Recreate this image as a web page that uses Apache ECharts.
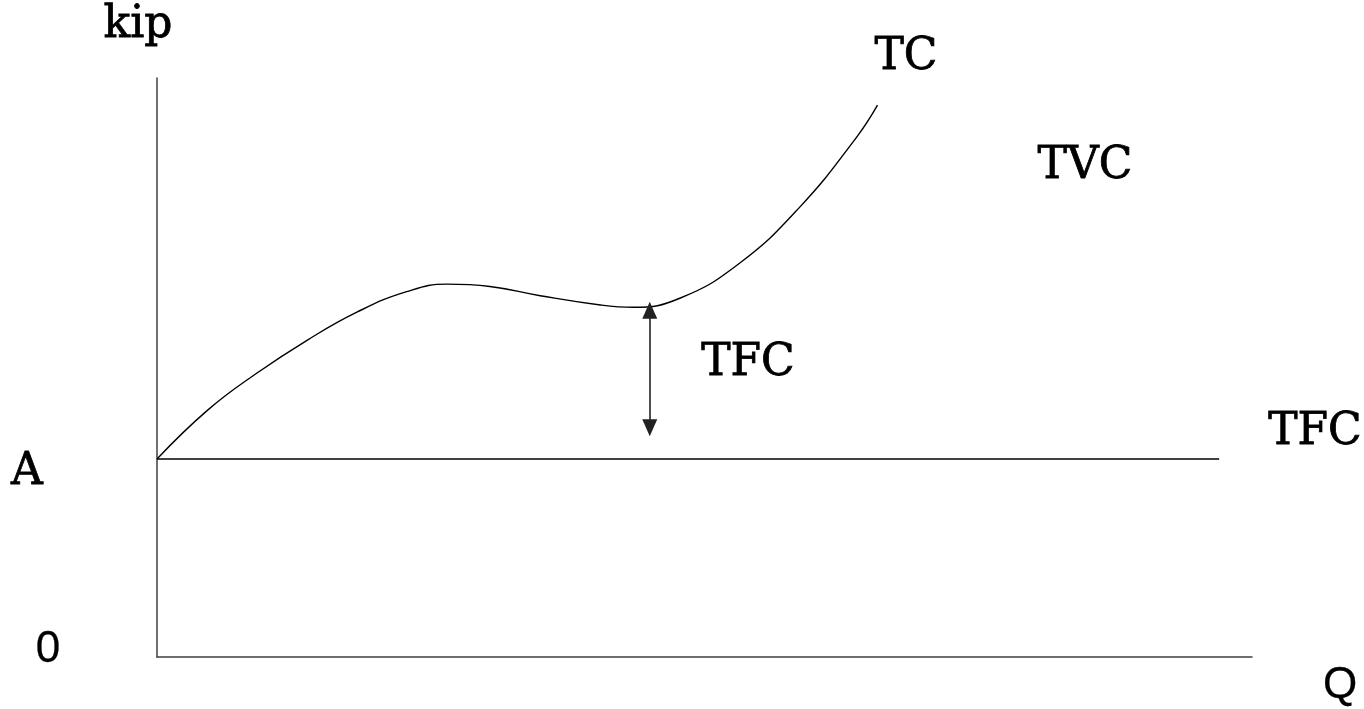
<!DOCTYPE html>
<html>
<head>
<meta charset="utf-8">
<script src="https://cdn.jsdelivr.net/npm/echarts@6/dist/echarts.min.js"></script>
<style>
html,body{margin:0;padding:0;background:#fff;}
#chart{width:1364px;height:709px;}
</style>
</head>
<body>
<div id="chart"></div>
<script>
// Total cost (TC) curve: quantity Q and cost values
const tcQ    = [0, 4.6, 9.1, 13.7, 18.3, 22.8, 26.5, 30.4, 35.0, 40.5, 43.5, 47.8, 53.2, 58.7, 63.9, 65.8];
const tcCost = [34.2, 42.6, 49.0, 54.7, 59.6, 63.1, 64.4, 64.0, 62.4, 60.8, 60.4, 62.0, 68.0, 77.7, 89.8, 95.3];
// Total fixed cost (TFC) level A
const tfcQ    = [0, 97];
const tfcCost = [34.2, 34.2];
// Arrow marking the TFC gap
const arrowQ = 45.0;
const arrowFrom = 59.9;
const arrowTo = 39.6;
// Text labels
const labelKip = 'kip';
const labelTC = 'TC';
const labelTVC = 'TVC';
const labelTFC = 'TFC';
const labelA = 'A';
const labelZero = '0';
const labelQ = 'Q';

const chart = echarts.init(document.getElementById('chart'));
const serif = '44px "DejaVu Serif"';
const sans = '44px "Liberation Sans"';
function txt(t, x, y, font, sw){
  return {type:'text', x:x, y:y, style:{text:t, font:font, fill:'#000', stroke:'#000', lineWidth:sw, align:'center', verticalAlign:'middle'}};
}
chart.setOption({
  animation:false,
  backgroundColor:'#fff',
  grid:{left:157, top:78, width:1095, height:579},
  xAxis:{type:'value', min:0, max:100, axisLine:{show:true, lineStyle:{color:'#404040', width:1.5}}, axisTick:{show:false}, axisLabel:{show:false}, splitLine:{show:false}},
  yAxis:{type:'value', min:0, max:100, axisLine:{show:true, lineStyle:{color:'#404040', width:1.5}}, axisTick:{show:false}, axisLabel:{show:false}, splitLine:{show:false}},
  series:[
    {name:'TC', type:'line', data:tcQ.map((q,i)=>[q,tcCost[i]]), smooth:0.45, showSymbol:false, lineStyle:{color:'#000', width:1.4},
     markLine:{silent:true, symbol:['triangle','triangle'], symbolSize:[15,17], label:{show:false},
       lineStyle:{color:'#222', width:1.6, type:'solid'},
       data:[[{coord:[arrowQ, arrowFrom]},{coord:[arrowQ, arrowTo]}]]}},
    {name:'TFC', type:'line', data:tfcQ.map((q,i)=>[q,tfcCost[i]]), showSymbol:false, lineStyle:{color:'#000', width:1.5}}
  ],
  graphic:[
    txt(labelKip, 138, 26, serif, 0.8),
    txt(labelTC, 906, 58, serif, 0.8),
    txt(labelTVC, 1085, 167, serif, 0.8),
    txt(labelTFC, 748, 364, serif, 0.8),
    txt(labelTFC, 1315, 433, serif, 0.8),
    txt(labelA, 27, 473, serif, 0.8),
    txt(labelZero, 48, 650, sans, 0.3),
    txt(labelQ, 1340, 686, sans, 0.3)
  ]
});
</script>
</body>
</html>
